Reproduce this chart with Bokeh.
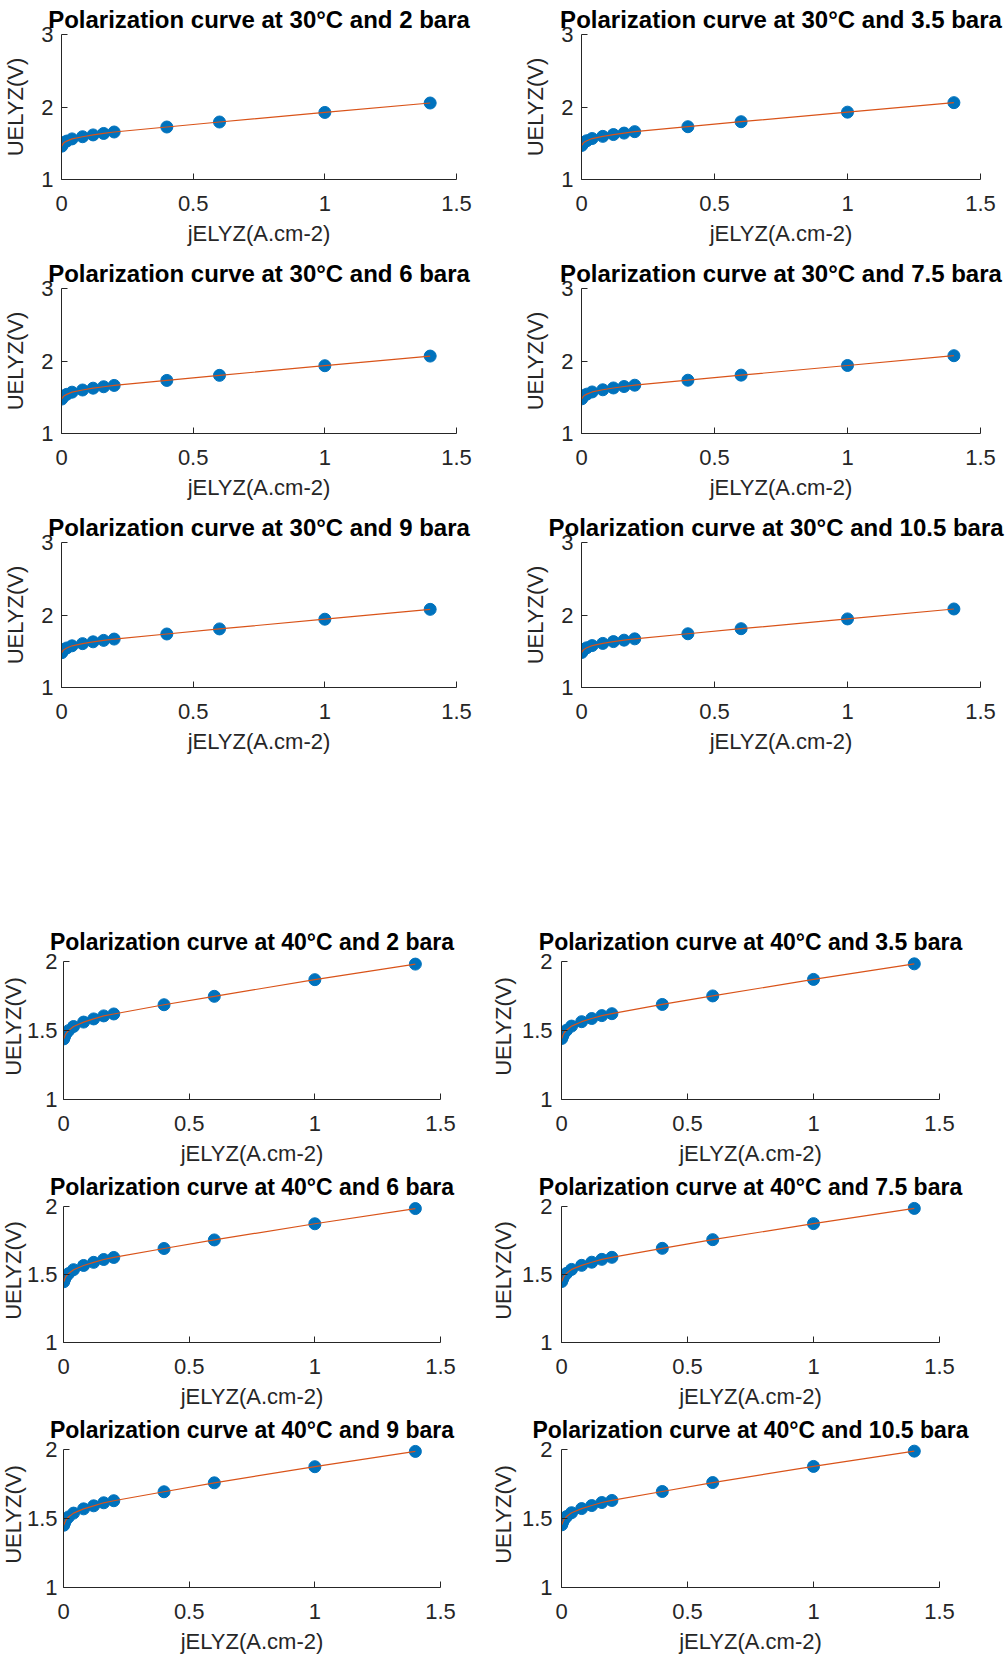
from bokeh.plotting import figure
from bokeh.layouts import column, row, Spacer
from bokeh.models import FixedTicker, NumeralTickFormatter, Range1d
from bokeh.embed import file_html
from bokeh.resources import INLINE

# ---------------- data ----------------
j_elyz = [0.001, 0.005, 0.01, 0.02, 0.04, 0.08, 0.12, 0.16, 0.2, 0.4, 0.6, 1.0, 1.4]

pressures = ["2", "3.5", "6", "7.5", "9", "10.5"]

u30_2 = [1.46, 1.49, 1.51, 1.53, 1.56, 1.59, 1.615, 1.635, 1.655, 1.724, 1.793, 1.925, 2.055]
u30_3p5 = [1.47, 1.495, 1.515, 1.535, 1.565, 1.595, 1.62, 1.64, 1.66, 1.728, 1.797, 1.929, 2.06]
u30_6 = [1.475, 1.50, 1.52, 1.54, 1.57, 1.60, 1.625, 1.645, 1.663, 1.732, 1.802, 1.935, 2.068]
u30_7p5 = [1.478, 1.503, 1.523, 1.543, 1.573, 1.603, 1.628, 1.648, 1.666, 1.735, 1.805, 1.938, 2.073]
u30_9 = [1.48, 1.505, 1.525, 1.545, 1.575, 1.605, 1.63, 1.65, 1.668, 1.738, 1.808, 1.942, 2.078]
u30_10p5 = [1.483, 1.508, 1.528, 1.548, 1.578, 1.608, 1.633, 1.653, 1.671, 1.741, 1.811, 1.946, 2.083]

u40_2 = [1.44, 1.46, 1.48, 1.50, 1.53, 1.562, 1.585, 1.607, 1.621, 1.688, 1.749, 1.87, 1.983]
u40_3p5 = [1.443, 1.463, 1.483, 1.503, 1.533, 1.565, 1.588, 1.609, 1.623, 1.69, 1.752, 1.872, 1.985]
u40_6 = [1.447, 1.467, 1.487, 1.507, 1.536, 1.567, 1.59, 1.611, 1.626, 1.692, 1.755, 1.874, 1.986]
u40_7p5 = [1.449, 1.469, 1.489, 1.509, 1.538, 1.568, 1.591, 1.612, 1.627, 1.693, 1.757, 1.875, 1.987]
u40_9 = [1.452, 1.472, 1.492, 1.512, 1.54, 1.571, 1.593, 1.615, 1.63, 1.695, 1.76, 1.877, 1.988]
u40_10p5 = [1.455, 1.475, 1.495, 1.515, 1.543, 1.573, 1.595, 1.617, 1.632, 1.697, 1.762, 1.879, 1.99]

series_30 = [u30_2, u30_3p5, u30_6, u30_7p5, u30_9, u30_10p5]
series_40 = [u40_2, u40_3p5, u40_6, u40_7p5, u40_9, u40_10p5]

x_ticks = [0, 0.5, 1, 1.5]
y_ticks_30 = [1, 2, 3]
y_ticks_40 = [1, 1.5, 2]

x_label = "jELYZ(A.cm-2)"
y_label = "UELYZ(V)"

FONT = "Liberation Sans"
AX = "#262626"


def panel(title, y_lo, y_hi, y_top, y_ticks, width, height, bl, br, bt, bb,
          t_standoff, t_size="24px", margin=None):
    p = figure(width=width, height=height, output_backend="svg", toolbar_location=None,
               x_range=Range1d(0, 1.5), y_range=Range1d(y_lo, y_top),
               min_border_left=bl, min_border_right=br, min_border_top=bt, min_border_bottom=bb,
               title=title)
    if margin is not None:
        p.margin = margin
    p.outline_line_color = None
    p.grid.visible = False
    p.background_fill_color = "white"
    p.border_fill_color = "white"

    p.title.text_font = FONT
    p.title.text_font_size = t_size
    p.title.text_font_style = "bold"
    p.title.text_color = "#000000"
    p.title.align = "center"
    p.title.standoff = t_standoff

    p.xaxis.ticker = FixedTicker(ticks=x_ticks, minor_ticks=[])
    p.yaxis.ticker = FixedTicker(ticks=y_ticks, minor_ticks=[])
    p.yaxis.bounds = (y_lo, y_hi)
    for ax in (p.xaxis, p.yaxis):
        ax.formatter = NumeralTickFormatter(format="0.[0]")
        ax.axis_line_color = AX
        ax.axis_line_width = 1
        ax.major_tick_line_color = AX
        ax.major_tick_in = 6
        ax.major_tick_out = 0
        ax.minor_tick_line_color = None
        ax.major_label_text_font = FONT
        ax.major_label_text_font_size = "22px"
        ax.major_label_text_color = AX
        ax.axis_label_text_font = FONT
        ax.axis_label_text_font_size = "22px"
        ax.axis_label_text_font_style = "normal"
        ax.axis_label_text_color = AX
    p.xaxis.axis_label = x_label
    p.yaxis.axis_label = y_label
    p.xaxis.major_label_standoff = 16
    p.xaxis.axis_label_standoff = 7
    return p


def draw(p, u):
    p.scatter(j_elyz, u, size=12, color="#0072BD", line_color="#0072BD")
    p.line(j_elyz, u, color="#D95319", line_width=1.2)


rows = []
# 30 degC section (3 rows of 254 px)
for r in range(3):
    left = panel(f"Polarization curve at 30°C and {pressures[2*r]} bara",
                 1, 3, 3, y_ticks_30, 520, 254, 60, 64, 34, 75, 3)
    left.yaxis.major_label_standoff = 8
    left.yaxis.axis_label_standoff = 10
    draw(left, series_30[2*r])
    right = panel(f"Polarization curve at 30°C and {pressures[2*r+1]} bara",
                  1, 3, 3, y_ticks_30, 487, 254, 60, 27, 34, 75, 3)
    right.yaxis.major_label_standoff = 8
    right.yaxis.axis_label_standoff = 10
    if pressures[2*r+1] == "10.5":
        right.title.align = "left"
        right.title.offset = -33
    draw(right, series_30[2*r+1])
    rows.append(row(left, right))

rows.append(Spacer(width=10, height=161))

# 40 degC section
heights = [245, 243, 245]
for r in range(3):
    h = heights[r]
    bb = h - 30 - 146
    left = panel(f"Polarization curve at 40°C and {pressures[2*r]} bara",
                 1, 2, 2.06, y_ticks_40, 491, h, 67, 47, 30, bb, -2, t_size="23px",
                 margin=(0, 0, 0, -4))
    left.yaxis.major_label_standoff = 6
    left.yaxis.axis_label_standoff = -2
    draw(left, series_40[2*r])
    right = panel(f"Polarization curve at 40°C and {pressures[2*r+1]} bara",
                  1, 2, 2.06, y_ticks_40, 520, h, 72, 68, 30, bb, -2, t_size="23px")
    right.yaxis.major_label_standoff = 9
    right.yaxis.axis_label_standoff = 3
    draw(right, series_40[2*r+1])
    rows.append(row(left, right))

layout = column(*rows)
open("out.html", "w").write(file_html(layout, INLINE))
